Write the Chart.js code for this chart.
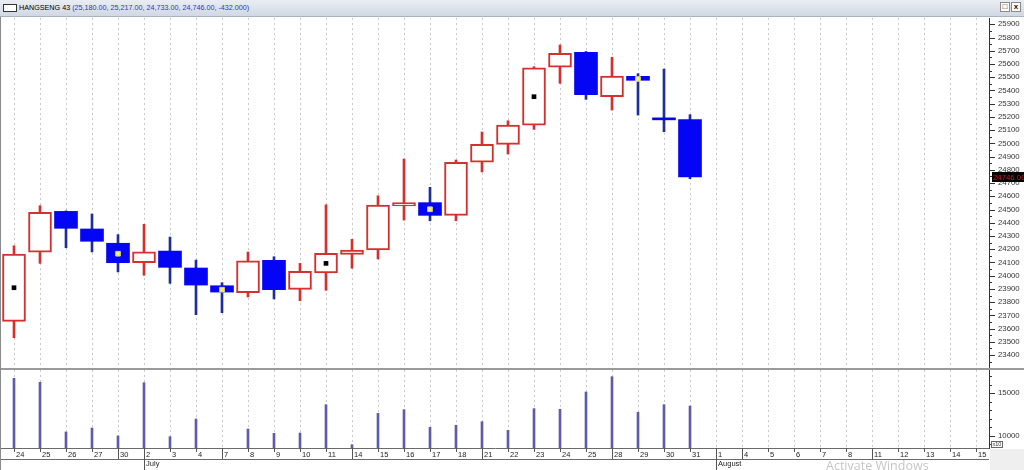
<!DOCTYPE html>
<html><head><meta charset="utf-8">
<script src="https://cdn.jsdelivr.net/npm/chart.js@4.4.1/dist/chart.umd.min.js"></script>
<style>
html,body{margin:0;padding:0;background:#fff;width:1024px;height:470px;overflow:hidden;font-family:"Liberation Sans",Arial,sans-serif;}
#title{position:absolute;left:0;top:0;width:1024px;height:17px;background:linear-gradient(#e9edf3,#d1d8e3);border-bottom:1px solid #a9b2bf;box-sizing:border-box;}
#icon{position:absolute;left:3px;top:4px;width:14px;height:8px;background:#fff;border:1px solid #333;box-sizing:border-box;}
#ttext{position:absolute;left:19px;top:3px;font-size:7.2px;line-height:10px;white-space:nowrap;color:#000;}
#tvals{color:#3232c8;}
.btn{position:absolute;top:2px;width:10px;height:10px;background:#fff;border:1px solid #8a8a8a;box-sizing:border-box;font-size:8px;line-height:8px;text-align:center;font-weight:bold;color:#111;}
#price{position:absolute;left:0;top:18px;}
#vol{position:absolute;left:0;top:370px;}
#sep{position:absolute;left:0;top:368px;width:1024px;height:2px;background:#9a9a9a;}
#lb{position:absolute;left:0;top:17px;width:1px;height:453px;background:#8a8a8a;}
#corner{position:absolute;left:990px;top:449px;width:34px;height:21px;background:#efefef;}
#x10{position:absolute;left:991px;top:441px;width:12px;height:7px;border:1px solid #666;box-sizing:border-box;font-size:5.5px;line-height:5px;text-align:center;color:#333;background:#fff;}
#wm{position:absolute;left:826px;top:457px;font-family:"Open Sans",sans-serif;font-size:12.5px;color:rgba(150,150,150,0.55);white-space:nowrap;}
</style></head><body>
<div id="title"><div id="icon"></div><div id="ttext"><span id="tname">HANGSENG 43</span> <span id="tvals"></span></div>
<div class="btn" style="left:1000px;">&#9633;</div><div class="btn" style="left:1011px;">x</div></div>
<canvas id="price" width="1024" height="350"></canvas>
<canvas id="vol" width="1024" height="100"></canvas>
<div id="sep"></div><div id="lb"></div><div id="corner"></div><div id="x10">x10</div>
<div id="wm">Activate Windows</div>
<script>
// ---- categories (trading days) ----
const dates = ['24','25','26','27','30','2','3','4','7','8','9','10','11','14','15','16','17','18','21','22','23','24','25','28','29','30','31','1','4','5','6','7','8','11','12','13','14','15'];
const monthNames = ['July','August'];
const monthStartIdx = [5, 27];
const weekStartIdx = [4, 8, 13, 18, 23, 28, 33];

// ---- OHLC series ----
const openV  = [23655,24177,24486,24353,24245,24098,24186,24058,23924,23871,24116,23897,24020,24161,24194,24527,24552,24456,24859,24993,25137,25577,25688,25353,25507,25182,25180];
const highV  = [24226,24529,24490,24466,24310,24388,24292,24118,23947,24179,24143,24093,24536,24275,24604,24882,24668,24874,25086,25171,25580,25744,25695,25651,25527,25562,25217];
const lowV   = [23531,24093,24211,24179,24028,24003,23942,23705,23720,23839,23824,23811,23889,24056,24126,24420,24415,24415,24784,24920,25106,25454,25333,25252,25214,25088,24733];
const closeV = [24164,24479,24358,24260,24098,24181,24063,23929,23876,24113,23894,24033,24169,24194,24534,24552,24456,24857,24993,25139,25572,25681,25368,25509,25477,25178,24746];

// ---- signal markers ----
const markBlack  = [23909,null,null,null,null,null,null,null,null,null,null,null,24093,null,null,null,null,null,null,null,25353,null,null,null,null,null,null];
const markYellow = [null,null,null,null,24166,null,null,null,23894,null,null,null,null,null,null,null,24502,null,null,null,null,null,null,null,25487,null,null];

// ---- volume (x10) ----
const volumes = [16770,16300,10440,10910,9970,16250,9890,11970,null,10790,10280,10320,13660,8940,12640,13070,10990,11230,11650,10640,13190,13110,15150,16960,12760,13660,13500];

const RED = '#d43030', BLUE = '#0505f5', NAVY = '#1e2d9a';
const FONT = 'Liberation Sans';
Chart.defaults.font.family = FONT;
Chart.defaults.animation = false;

// title values
const n = closeV.length - 1;
const fmt = v => v.toLocaleString('en-US', {minimumFractionDigits: 2, maximumFractionDigits: 2});
document.getElementById('tvals').textContent = '(' + [openV[n], highV[n], lowV[n], closeV[n]].map(fmt).join(', ') + ', ' + (closeV[n] - closeV[n - 1]).toFixed(3) + ')';

const up = openV.map((o, i) => closeV[i] >= o);

const axisTicks = {
  id: 'axisTicks',
  afterDraw(chart, args, opts) {
    const ctx = chart.ctx, s = chart.scales.y;
    ctx.save();
    ctx.strokeStyle = '#333'; ctx.lineWidth = 1;
    s.ticks.forEach(t => {
      const py = Math.round(s.getPixelForValue(t.value)) + 0.5;
      const len = (t.value % opts.major === 0) ? 6 : 3;
      ctx.beginPath(); ctx.moveTo(s.left, py); ctx.lineTo(s.left + len, py); ctx.stroke();
    });
    if (opts.tag != null) {
      const py = Math.round(s.getPixelForValue(opts.tag));
      ctx.fillStyle = '#000';
      ctx.fillRect(s.left + 3, py - 5, 40, 10);
      ctx.fillStyle = '#d01818';
      ctx.font = '7.8px ' + FONT;
      ctx.textBaseline = 'middle'; ctx.textAlign = 'left';
      ctx.fillText(opts.tag.toFixed(2), s.left + 4, py + 0.5);
    }
    if (opts.xrow) {
      const x = chart.scales.x;
      const rowH = x.bottom - x.top;
      const mTop = x.bottom, mBot = x.bottom + rowH;
      ctx.strokeStyle = '#6a6a6a';
      ctx.beginPath(); ctx.moveTo(x.left, Math.round(mTop) + 0.5); ctx.lineTo(x.right, Math.round(mTop) + 0.5); ctx.stroke();
      ctx.strokeStyle = '#555';
      ctx.fillStyle = '#222';
      ctx.font = '7.5px ' + FONT;
      ctx.textBaseline = 'top'; ctx.textAlign = 'left';
      for (let i = 0; i < dates.length; i++) {
        const px = Math.round(x.getPixelForTick(i)) + 0.5;
        let yb = x.top + 4;
        if (weekStartIdx.includes(i)) yb = x.bottom;
        const k = monthStartIdx.indexOf(i);
        if (k >= 0) {
          yb = mBot;
          ctx.fillText(' ' + monthNames[k], px - 0.5, mTop + 1.5);
        }
        ctx.beginPath(); ctx.moveTo(px, x.top); ctx.lineTo(px, yb); ctx.stroke();
      }
    }
    ctx.restore();
  }
};

const fitY = s => { s.width = 35; s.paddingTop = 0; s.paddingBottom = 0; };
const fitX = h => s => { s.height = h; s.paddingLeft = 0; s.paddingRight = 0; };

const priceTickVals = [];
for (let v = 23350; v <= 25900; v += 50) priceTickVals.push(v);

new Chart(document.getElementById('price'), {
  type: 'bar',
  data: {
    labels: dates,
    datasets: [
      { type: 'line', data: markBlack, showLine: false, pointStyle: 'rect', pointRadius: 3.3, pointBackgroundColor: '#000', pointBorderColor: '#000', pointBorderWidth: 0, order: 0 },
      { type: 'line', data: markYellow, showLine: false, pointStyle: 'rect', pointRadius: 3.3, pointBackgroundColor: '#f4f06c', pointBorderColor: '#d6d690', pointBorderWidth: 1, order: 0 },
      { data: openV.map((o, i) => [o, closeV[i]]), grouped: false, barThickness: 23, minBarLength: 2, borderSkipped: false,
        backgroundColor: up.map(u => u ? '#ffffff' : BLUE), borderColor: up.map(u => u ? RED : BLUE), borderWidth: up.map(u => u ? 2 : 0), order: 1 },
      { data: lowV.map((l, i) => [l, highV[i]]), grouped: false, barThickness: 2, borderSkipped: false, borderWidth: 0,
        backgroundColor: up.map(u => u ? RED : NAVY), order: 2 }
    ]
  },
  options: {
    responsive: false, devicePixelRatio: 1, events: [],
    layout: { autoPadding: false, padding: { left: 1, right: 0, top: 0, bottom: 0 } },
    plugins: { legend: { display: false }, tooltip: { enabled: false }, axisTicks: { major: 100, tag: closeV[n] } },
    scales: {
      x: { offset: true, grid: { offset: false, color: '#c9c9c9', lineWidth: 1, drawTicks: false }, border: { display: false, dash: [2, 3] },
           ticks: { display: false }, afterFit: fitX(0) },
      y: { position: 'right', min: 23302, max: 25948, grid: { display: false, drawTicks: false }, border: { display: true, color: '#333', width: 1 },
           afterBuildTicks: s => { s.ticks = priceTickVals.map(v => ({ value: v })); },
           ticks: { padding: 9, color: '#333', font: { size: 7.8 }, autoSkip: false, callback: v => (v % 100 === 0 ? String(v) : '') },
           afterFit: fitY }
    }
  },
  plugins: [axisTicks]
});

const volTickVals = [];
for (let v = 9000; v <= 17000; v += 1000) volTickVals.push(v);

new Chart(document.getElementById('vol'), {
  type: 'bar',
  data: {
    labels: dates,
    datasets: [{ data: volumes, barThickness: 2, backgroundColor: '#5c5cab', borderWidth: 0 }]
  },
  options: {
    responsive: false, devicePixelRatio: 1, events: [],
    layout: { autoPadding: false, padding: { left: 1, right: 0, top: 0, bottom: 11 } },
    plugins: { legend: { display: false }, tooltip: { enabled: false }, axisTicks: { major: 5000, tag: null, xrow: true } },
    scales: {
      x: { offset: true, grid: { offset: false, color: '#c9c9c9', drawTicks: false }, border: { display: true, color: '#6a6a6a', dash: [2, 3] },
           ticks: { align: 'start', padding: 2, color: '#222', font: { size: 7.5 }, autoSkip: false, maxRotation: 0, minRotation: 0, callback: (v, i) => ' ' + dates[i] },
           afterFit: fitX(11) },
      y: { position: 'right', min: 8551, max: 17747, grid: { display: false, drawTicks: false }, border: { display: true, color: '#333', width: 1 },
           afterBuildTicks: s => { s.ticks = volTickVals.map(v => ({ value: v })); },
           ticks: { padding: 9, color: '#333', font: { size: 7.8 }, autoSkip: false, callback: v => (v % 5000 === 0 ? String(v) : '') },
           afterFit: fitY }
    }
  },
  plugins: [axisTicks]
});
</script>
</body></html>
